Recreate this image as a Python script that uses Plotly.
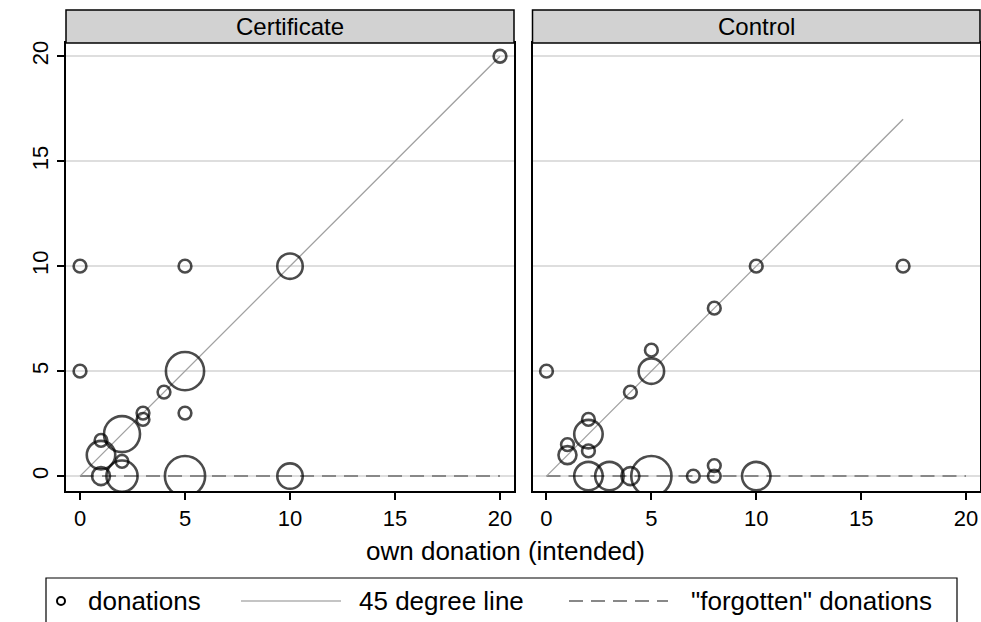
import numpy as np
import plotly.graph_objects as go

# Certificate panel: own donation (intended) vs donation, with frequency weights
cert_x = [0, 0, 5, 10, 20, 5, 4, 3, 3, 5, 1, 1, 2, 2, 1, 2, 5, 10]
cert_y = [10, 5, 10, 10, 20, 5, 4, 3, 2.7, 3, 1.7, 1, 2, 0.7, 0, 0, 0, 0]
cert_n = [1, 1, 1, 4, 1, 9, 1, 1, 1, 1, 1, 5, 8, 1, 2, 6, 10, 4]

# Control panel
ctrl_x = [0, 10, 17, 8, 5, 5, 4, 2, 2, 2, 1, 1, 2, 3, 4, 5, 7, 8, 8, 10]
ctrl_y = [5, 10, 10, 8, 6, 5, 4, 2.7, 2, 1.2, 1.5, 1, 0, 0, 0, 0, 0, 0, 0.5, 0]
ctrl_n = [1, 1, 1, 1, 1, 4, 1, 1, 5, 1, 1, 2, 5, 5, 2, 10, 1, 1, 1, 5]

panels = ["Certificate", "Control"]
x_ticks = [0, 5, 10, 15, 20]
y_ticks = [0, 5, 10, 15, 20]
forgotten_x = [0, 20]
forgotten_y = [0, 0]

FONT = "Liberation Sans, Arial, sans-serif"
W, H = 981, 622
# plot area in window pixels: x 66..980, y 43..491
ML, MR, MT, MB = 66, W - 980, 43, H - 491
PW, PH = W - ML - MR, H - MT - MB


def px(x):
    # window pixel -> paper fraction
    return (x - ML) / PW


def py(y):
    return (H - MB - y) / PH


fig = go.Figure()

for i, (xs, ys, ns) in enumerate([(cert_x, cert_y, cert_n), (ctrl_x, ctrl_y, ctrl_n)]):
    xa = "x" if i == 0 else "x2"
    ya = "y" if i == 0 else "y2"
    top = max(xs)
    fig.add_trace(go.Scatter(x=forgotten_x, y=forgotten_y, mode="lines", xaxis=xa, yaxis=ya,
                             line=dict(color="#888888", width=2, dash="14px,8px"),
                             showlegend=False, hoverinfo="skip"))
    fig.add_trace(go.Scatter(x=[0, top], y=[0, top], mode="lines", xaxis=xa, yaxis=ya,
                             line=dict(color="#a0a0a0", width=1.3),
                             showlegend=False, hoverinfo="skip"))
    fig.add_trace(go.Scatter(x=xs, y=ys, mode="markers", xaxis=xa, yaxis=ya,
                             marker=dict(symbol="circle", size=ns, sizemode="area", sizeref=1 / 81,
                                         color="rgba(0,0,0,0)", line=dict(color="black", width=2.6)),
                             showlegend=False))

xcommon = dict(range=[-0.667, 20.667], tickvals=x_ticks, ticks="outside", ticklen=7, tickwidth=1.5,
               tickcolor="black", showline=True, linecolor="black", linewidth=1.5, mirror=True,
               showgrid=False, zeroline=False, automargin=False,
               tickfont=dict(size=22, color="black", family=FONT))
ycommon = dict(range=[-0.71, 20.63], tickvals=y_ticks, showgrid=True, gridcolor="#dedede", gridwidth=1.5,
               showline=True, linecolor="black", linewidth=1.5, mirror=True, zeroline=False,
               automargin=False)

split_l = px(514)
split_r = px(532.5)
fig.update_layout(
    width=W, height=H,
    margin=dict(l=ML, r=MR, t=MT, b=MB, autoexpand=False),
    paper_bgcolor="white", plot_bgcolor="white",
    font=dict(family=FONT, color="black"),
    showlegend=False,
    xaxis=dict(domain=[0, split_l], anchor="y", **xcommon),
    xaxis2=dict(domain=[split_r, 1], anchor="y2", **xcommon),
    yaxis=dict(anchor="x", ticks="outside", ticklen=7, tickwidth=1.5, tickcolor="black",
               tickangle=-90, tickfont=dict(size=22, color="black", family=FONT), **ycommon),
    yaxis2=dict(anchor="x2", matches="y", showticklabels=False, ticks="", **ycommon),
)

# panel header strips
head_top = py(10)
for (x0, x1), name in zip([(0, split_l), (split_r, 1)], panels):
    fig.add_shape(type="rect", xref="paper", yref="paper", x0=x0, x1=x1, y0=1, y1=head_top,
                  fillcolor="#d2d2d2", line=dict(color="black", width=1.5))
    fig.add_annotation(x=(x0 + x1) / 2, y=(1 + head_top) / 2, xref="paper", yref="paper",
                       text=name, showarrow=False, font=dict(size=24, family=FONT, color="black"),
                       xanchor="center", yanchor="middle")

# shared x title
fig.add_annotation(x=px(505), y=py(551), xref="paper", yref="paper", text="own donation (intended)",
                   showarrow=False, font=dict(size=26, family=FONT, color="black"),
                   xanchor="center", yanchor="middle")

# legend box drawn by hand (Stata style, long line samples)
ly = py(601)
fig.add_shape(type="rect", xref="paper", yref="paper", x0=px(46), x1=px(957), y0=py(578), y1=py(660),
              line=dict(color="black", width=1.2), fillcolor="white")
fig.add_shape(type="circle", xref="paper", yref="paper", xsizemode="pixel", ysizemode="pixel",
              xanchor=px(61), yanchor=ly, x0=-4, x1=4, y0=-4, y1=4,
              line=dict(color="black", width=2))
fig.add_shape(type="line", xref="paper", yref="paper", x0=px(241), x1=px(341), y0=ly, y1=ly,
              line=dict(color="#b0b0b0", width=1.5))
fig.add_shape(type="line", xref="paper", yref="paper", x0=px(569), x1=px(668), y0=ly, y1=ly,
              line=dict(color="#888888", width=2, dash="14px,8px"))
for x0, txt in [(86, "donations"), (357, "45 degree line"), (689, "\"forgotten\" donations")]:
    fig.add_annotation(x=px(x0), y=ly, xref="paper", yref="paper", text=txt, showarrow=False,
                       font=dict(size=26, family=FONT, color="black"), xanchor="left", yanchor="middle")

# drop the default 8px page margin so the figure fills the window exactly
fig.write_html("out.html", config={"displayModeBar": False},
               post_script="document.body.style.margin='0px';document.body.style.overflow='hidden';")
